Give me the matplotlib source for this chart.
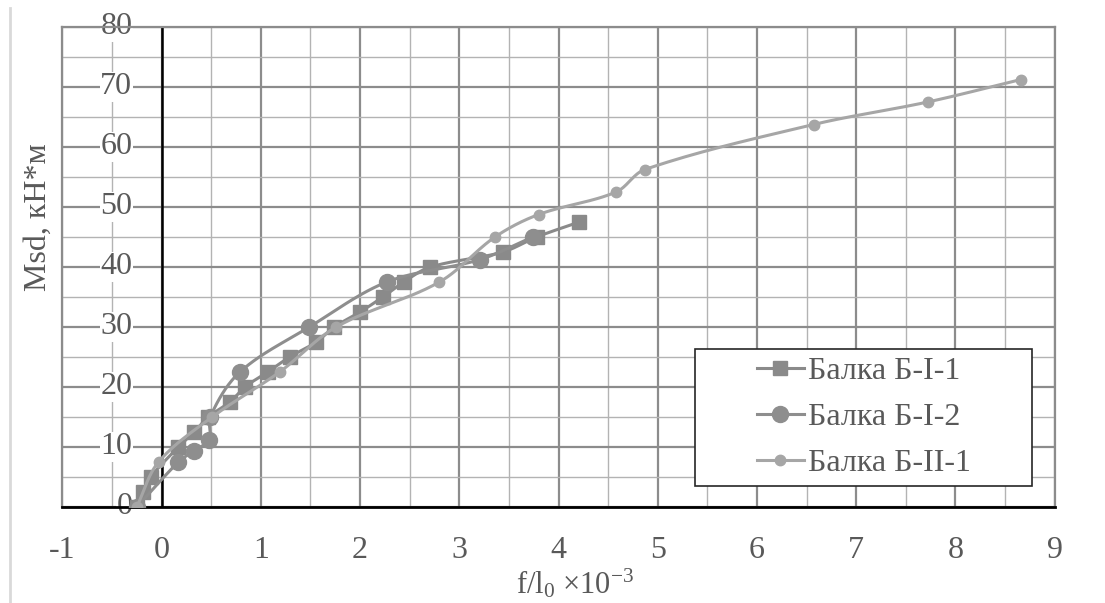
import numpy as np
import matplotlib
matplotlib.use("Agg")
import matplotlib.pyplot as plt
from matplotlib.lines import Line2D
from matplotlib.patches import Rectangle

plt.rcParams['font.family'] = ['Liberation Serif', 'DejaVu Serif']
plt.rcParams['mathtext.fontset'] = 'custom'
plt.rcParams['mathtext.rm'] = 'Liberation Serif'
plt.rcParams['mathtext.it'] = 'Liberation Serif:italic'

# ---- data ----
labels = ["Балка Б-I-1", "Балка Б-I-2", "Балка Б-II-1"]
i1_x = [-0.25, -0.19, -0.11, 0.17, 0.33, 0.47, 0.69, 0.84, 1.07, 1.29, 1.56, 1.74, 2.0, 2.23, 2.44, 2.71, 3.44, 3.78, 4.21]
i1_y = [0, 2.5, 5, 10, 12.5, 15, 17.5, 20, 22.5, 25, 27.5, 30, 32.5, 35, 37.5, 40, 42.5, 45, 47.5]
i2_x = [-0.25, 0.17, 0.33, 0.48, 0.49, 0.79, 1.49, 2.27, 3.21, 3.74]
i2_y = [0, 7.5, 9.4, 11.25, 15, 22.5, 30, 37.5, 41.25, 45]
ii1_x = [-0.25, -0.03, 0.51, 1.19, 1.76, 2.80, 3.36, 3.80, 4.58, 4.87, 6.57, 7.72, 8.66]
ii1_y = [0, 7.5, 15, 22.5, 30, 37.5, 45, 48.75, 52.5, 56.25, 63.75, 67.5, 71.25]
x_ticks = [-1, 0, 1, 2, 3, 4, 5, 6, 7, 8, 9]
y_ticks = [0, 10, 20, 30, 40, 50, 60, 70, 80]

TXT = '#595959'
FS = 23

fig = plt.figure(figsize=(11.05, 6.03), dpi=100)
ax = fig.add_axes([62.3/1105, 1 - 507/603, (1054.7 - 62.3)/1105, 480/603])
ax.set_xlim(-1, 9)
ax.set_ylim(0, 80)

SX, SY = 99.2, 6.0


def smooth(xs, ys, n=30):
    P = np.column_stack([np.array(xs) * SX, np.array(ys) * SY])
    out = [P[0]]
    m = len(P)
    L = np.linalg.norm(np.diff(P, axis=0), axis=1)
    for i in range(m - 1):
        p1 = P[i]
        p2 = P[i + 1]
        seg = L[i]
        if i > 0:
            d = P[i + 1] - P[i - 1]
            t1 = d / (np.linalg.norm(d) + 1e-9)
            c1 = p1 + t1 * seg / 3.0
        else:
            c1 = p1 + (p2 - p1) / 3.0
        if i + 2 < m:
            d = P[i + 2] - P[i]
            t2 = d / (np.linalg.norm(d) + 1e-9)
            c2 = p2 - t2 * seg / 3.0
        else:
            c2 = p2 - (p2 - p1) / 3.0
        t = np.linspace(0, 1, n)[1:, None]
        pts = ((1 - t) ** 3) * p1 + 3 * ((1 - t) ** 2) * t * c1 + 3 * (1 - t) * t ** 2 * c2 + t ** 3 * p2
        out.extend(pts)
    out = np.array(out)
    return out[:, 0] / SX, out[:, 1] / SY


# grid
ax.set_xticks(x_ticks)
ax.set_yticks(y_ticks)
ax.set_xticks(np.arange(-0.5, 9, 1.0), minor=True)
ax.set_yticks(np.arange(5, 80, 10), minor=True)
ax.grid(True, which='major', color='#8c8c8c', lw=1.6, zorder=0)
ax.grid(True, which='minor', color='#b3b3b3', lw=1.0, zorder=0)
ax.set_axisbelow(True)
ax.tick_params(which='both', length=0)
ax.set_yticklabels([])
ax.set_xticklabels([str(v) for v in x_ticks], fontsize=FS, color=TXT)
ax.tick_params(axis='x', pad=21)

for s in ['top', 'right', 'left']:
    ax.spines[s].set_color('#8c8c8c')
    ax.spines[s].set_linewidth(1.6)
ax.spines['bottom'].set_color('black')
ax.spines['bottom'].set_linewidth(2)
ax.axvline(0, color='black', lw=1.8, zorder=1)

# y tick labels with white background
for v in y_ticks:
    ax.text(-0.295, v, str(v), ha='right', va='center', fontsize=FS, color=TXT,
            bbox=dict(facecolor='white', edgecolor='none', pad=0.3), zorder=2)

styles = [
    dict(color='#8a8a8a', marker='s', ms=9.5, lw=2.2),
    dict(color='#8e8e8e', marker='o', ms=11.5, lw=2.2),
    dict(color='#a6a6a6', marker='o', ms=7.5, lw=2.2),
]
series = [(i1_x, i1_y), (i2_x, i2_y), (ii1_x, ii1_y)]
for k, ((xs, ys), st) in enumerate(zip(series, styles)):
    sx, sy = smooth(xs, ys)
    ax.plot(sx, sy, color=st['color'], lw=st['lw'], zorder=3 + k, solid_capstyle='round')
    ax.plot(xs, ys, ls='none', marker=st['marker'], ms=st['ms'], color=st['color'],
            mec=st['color'], zorder=3 + k)

# legend
handles = [Line2D([], [], color=st['color'], lw=st['lw'], marker=st['marker'],
                  ms=st['ms'], mec=st['color']) for st in styles]
box_l, box_r, box_t, box_b = 695, 1032, 349, 486
fig.patches.append(Rectangle((box_l/1105, 1 - box_b/603), (box_r - box_l)/1105, (box_b - box_t)/603,
                             transform=fig.transFigure, facecolor='white', edgecolor='#262626',
                             lw=1.2, zorder=10))
leg = fig.legend(handles, labels, loc='center',
                 bbox_to_anchor=((box_l + box_r)/2/1105, 1 - (box_t + box_b)/2/603),
                 frameon=False, fontsize=FS, handlelength=1.5, handletextpad=0.1,
                 labelspacing=0.52, labelcolor=TXT)
leg.set_zorder(11)

# axis labels
fig.text(575/1105, 1 - 594/603, r'f/l$_0$ ×10$^{\mathregular{-3}}$', ha='center', va='baseline',
         fontsize=FS - 1, color=TXT)
fig.text(38/1105, 1 - 217/603, 'Msd, кН*м', ha='center', va='center', rotation=90,
         fontsize=FS, color=TXT)

# left page border
fig.add_artist(Line2D([10/1105, 10/1105], [0, 1 - 8/603], transform=fig.transFigure,
                      color='#d9d9d9', lw=2))

fig.savefig('out.png', dpi=100)
